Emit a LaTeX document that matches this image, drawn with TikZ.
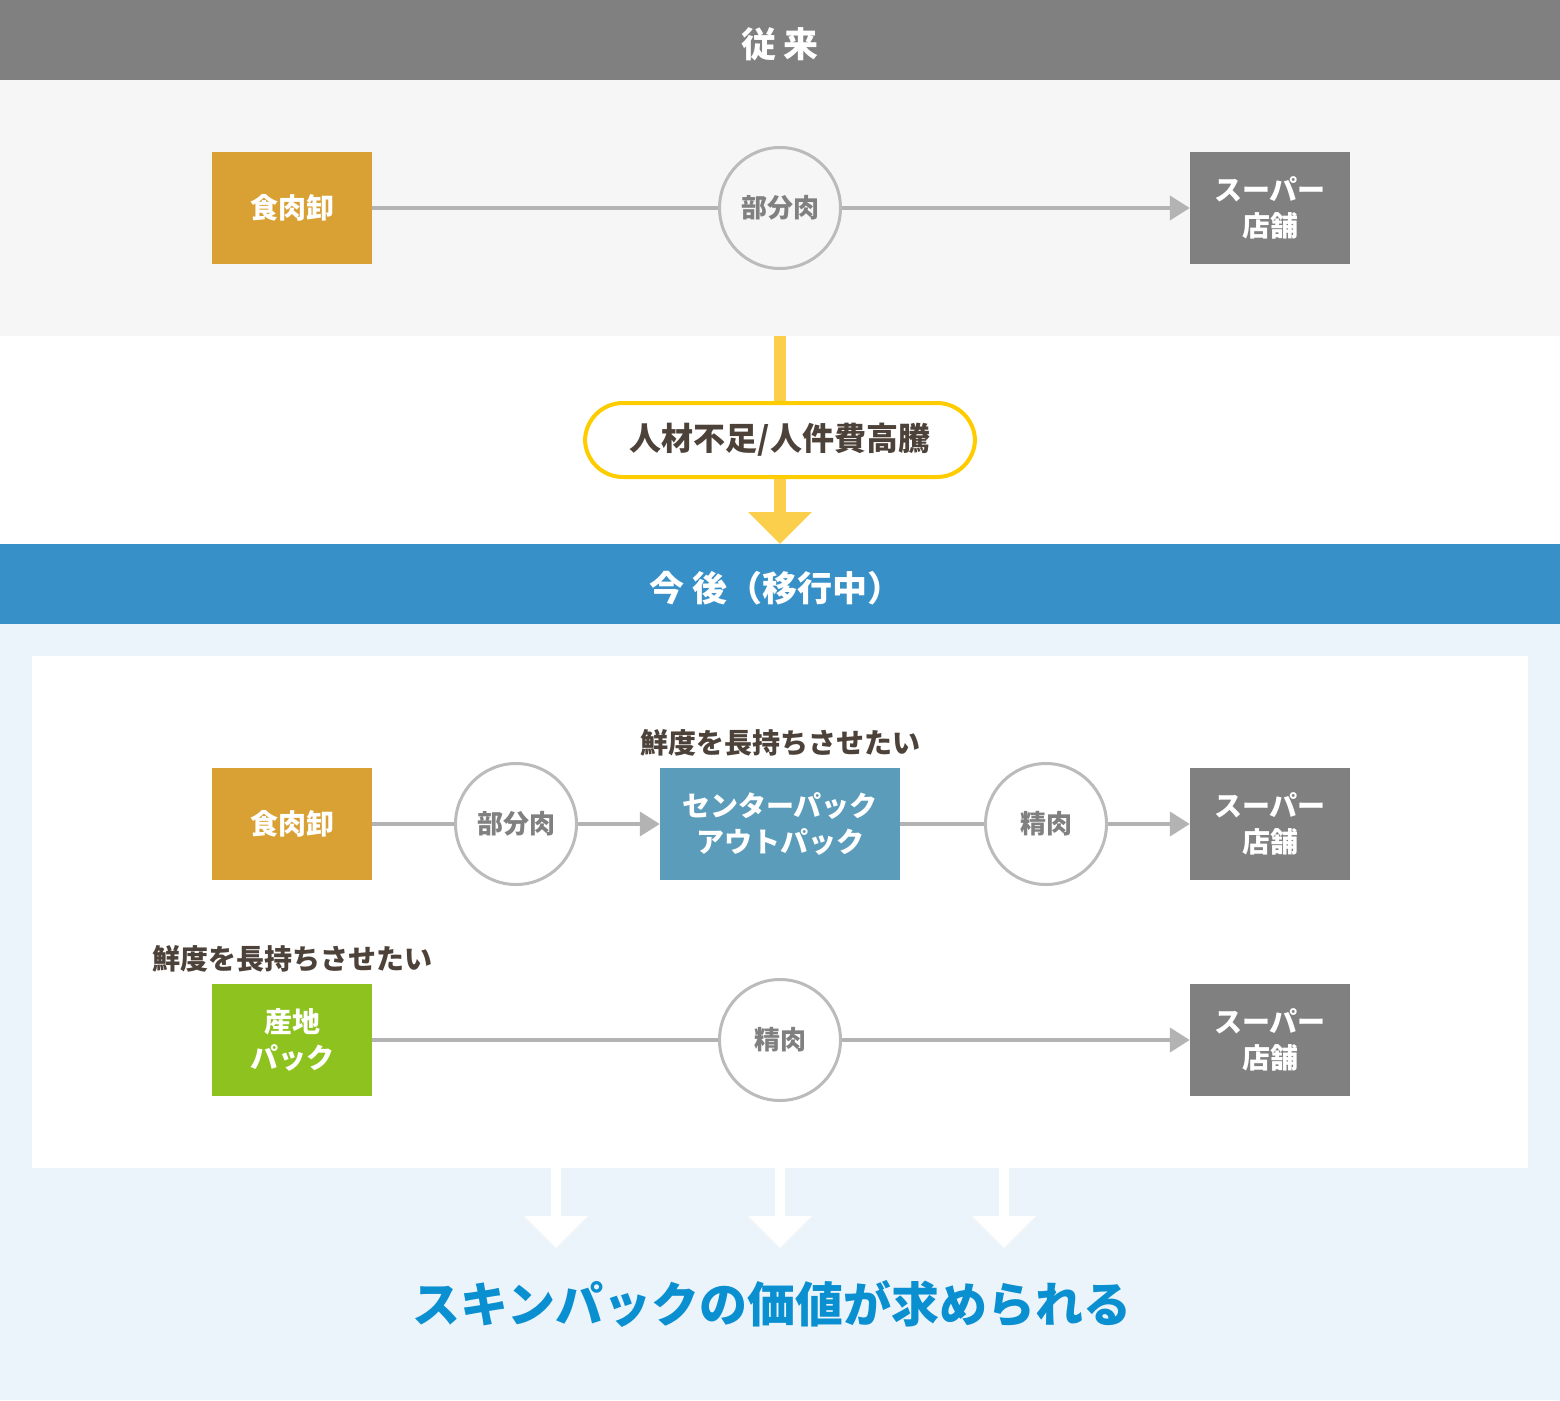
\documentclass[tikz,border=0pt]{standalone}
\usepackage{fontspec}
\setmainfont{Noto Sans CJK JP}
\usetikzlibrary{arrows.meta}
\definecolor{hdrgray}{HTML}{808080}
\definecolor{bggray}{HTML}{F6F6F6}
\definecolor{meat}{HTML}{D9A033}
\definecolor{pack}{HTML}{5A9CBA}
\definecolor{farm}{HTML}{8DC21F}
\definecolor{linegray}{HTML}{B3B3B3}
\definecolor{circgray}{HTML}{BBBBBB}
\definecolor{txtgray}{HTML}{808080}
\definecolor{dark}{HTML}{4D4239}
\definecolor{yel}{HTML}{FBCF4B}
\definecolor{yelline}{HTML}{FFCC00}
\definecolor{hdrblue}{HTML}{3890C9}
\definecolor{bgblue}{HTML}{ECF4FB}
\definecolor{skyblue}{HTML}{0A8FD0}
\tikzset{
  box/.style={minimum width=160pt, minimum height=112pt, inner sep=0pt, text=white,
    font=\fontsize{28}{36}\selectfont\bfseries, align=center},
  circ/.style={circle, draw=circgray, line width=3pt, minimum size=121pt, inner sep=0pt,
    text=txtgray, font=\fontsize{26}{28}\selectfont\bfseries},
  conn/.style={draw=linegray, line width=4pt},
  arr/.style={conn, -{Triangle[length=20pt,width=24pt]}},
  hdr/.style={text=white, font=\fontsize{35}{40}\selectfont\bfseries},
  note/.style={text=dark, font=\fontsize{28}{32}\selectfont\bfseries},
  bigarrow/.style={line width=10pt, white, -{Triangle[length=32pt,width=62pt]}},
}
\begin{document}
\begin{tikzpicture}[x=1pt,y=-1pt]
\useasboundingbox (0,0) rectangle (1560,1400);
% backgrounds
\fill[hdrgray] (0,0) rectangle (1560,80);
\fill[bggray] (0,80) rectangle (1560,336);
\fill[hdrblue] (0,544) rectangle (1560,624);
\fill[bgblue] (0,624) rectangle (1560,1400);
\fill[white] (32,656) rectangle (1528,1168);
\node[hdr] (h1) at (780,44) {従\ 来};
\node[hdr] (h2) at (776,588) {今\ 後（移行中）};

% top flow
\node[box, fill=meat] (a1) at (292,208) {食肉卸};
\node[circ, fill=bggray] (a2) at (780,208) {部分肉};
\node[box, fill=hdrgray] (a3) at (1270,208) {スーパー\\店舗};
\draw[conn] (a1) -- (a2);
\draw[arr] (a2) -- (a3);

% yellow transition
\coordinate (ytop) at (780,336);
\coordinate (ybot) at (780,544);
\node[draw=yelline, line width=4pt, fill=white, rounded corners=38pt,
  minimum width=390pt, minimum height=74pt, text=dark,
  font=\fontsize{32}{36}\selectfont\bfseries] (p) at (780,440) {人材不足/人件費高騰};
\draw[yel, line width=12pt] (ytop) -- (p.north);
\draw[yel, line width=12pt, -{Triangle[length=32pt,width=62pt]}] (p.south) -- (ybot);

% row 1
\node[box, fill=meat] (b1) at (292,824) {食肉卸};
\node[circ, fill=white] (b2) at (516,824) {部分肉};
\node[box, fill=pack, minimum width=240pt] (b3) at (780,824) {センターパック\\アウトパック};
\node[note] (n1) at (780,743) {鮮度を長持ちさせたい};
\node[circ, fill=white] (b4) at (1046,824) {精肉};
\node[box, fill=hdrgray] (b5) at (1270,824) {スーパー\\店舗};
\draw[conn] (b1) -- (b2);
\draw[arr] (b2) -- (b3);
\draw[conn] (b3) -- (b4);
\draw[arr] (b4) -- (b5);

% row 2
\node[box, fill=farm] (c1) at (292,1040) {産地\\パック};
\node[note] (n2) at (292,959) {鮮度を長持ちさせたい};
\node[circ, fill=white] (c2) at (780,1040) {精肉};
\node[box, fill=hdrgray] (c3) at (1270,1040) {スーパー\\店舗};
\draw[conn] (c1) -- (c2);
\draw[arr] (c2) -- (c3);

% white arrows
\coordinate (w1s) at (556,1168); \coordinate (w1e) at (556,1248);
\coordinate (w2s) at (780,1168); \coordinate (w2e) at (780,1248);
\coordinate (w3s) at (1004,1168); \coordinate (w3e) at (1004,1248);
\draw[bigarrow] (w1s) -- (w1e);
\draw[bigarrow] (w2s) -- (w2e);
\draw[bigarrow] (w3s) -- (w3e);

\node[text=skyblue, font=\fontsize{48}{56}\selectfont\bfseries] (res) at (772,1304) {スキンパックの価値が求められる};
\end{tikzpicture}
\end{document}
